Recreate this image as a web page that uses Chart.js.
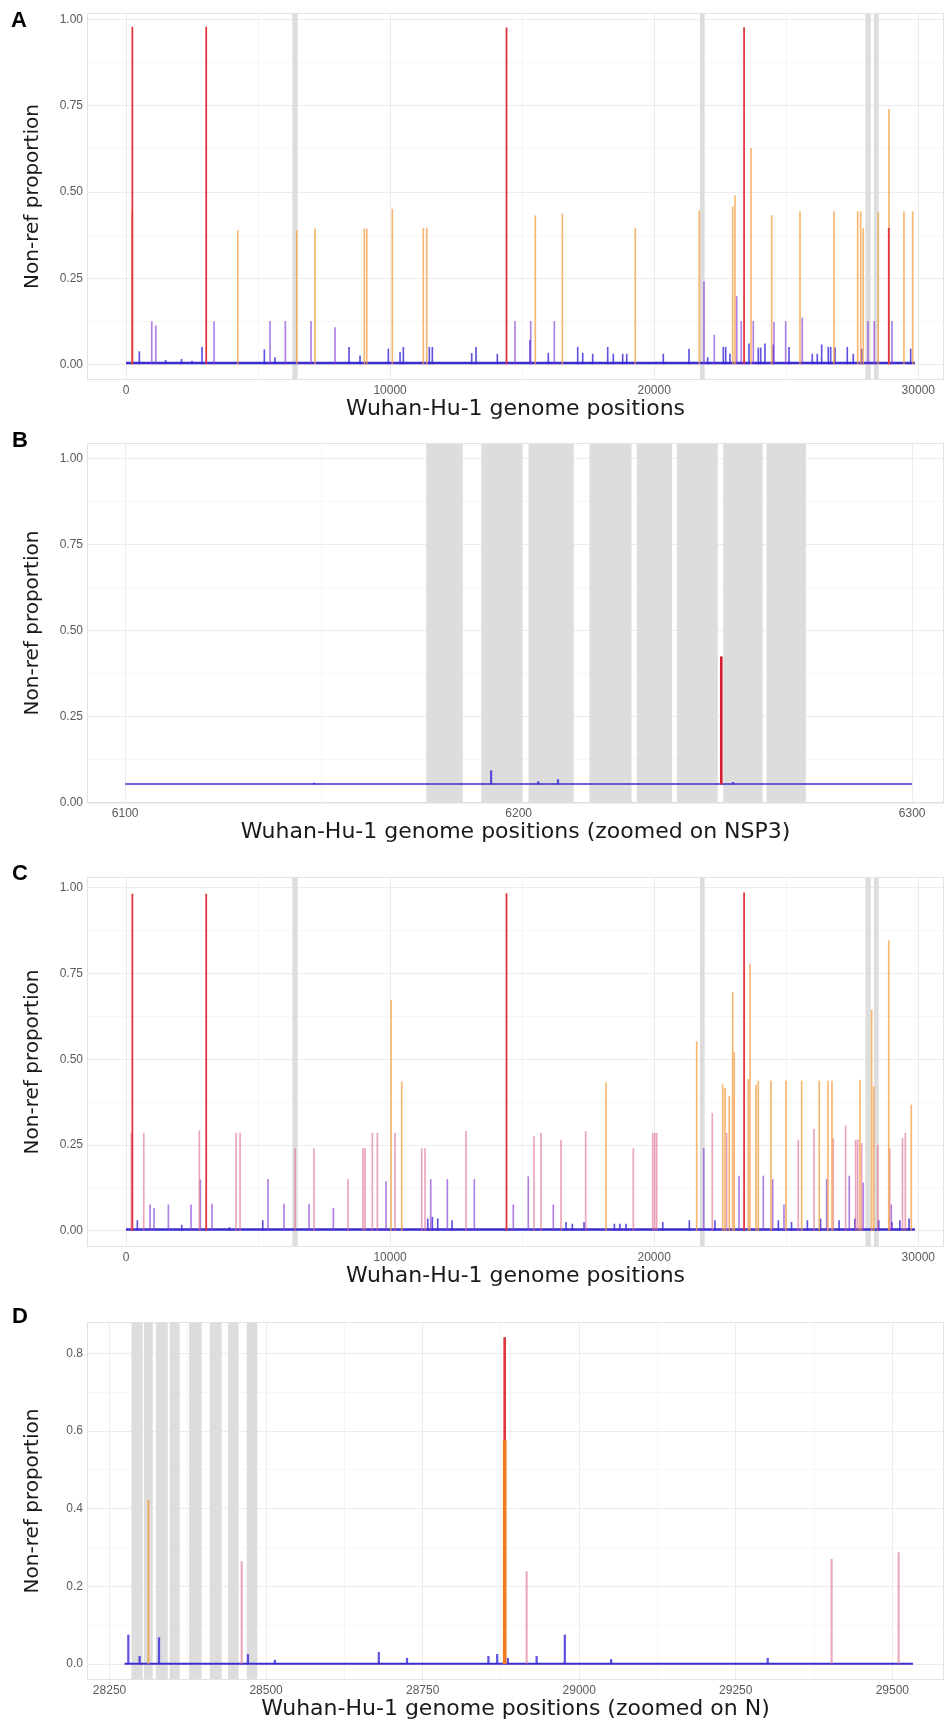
<!DOCTYPE html>
<html>
<head>
<meta charset="utf-8">
<title>Non-ref proportion along the Wuhan-Hu-1 genome</title>
<script src="https://cdn.jsdelivr.net/npm/chart.js@4.4.1/dist/chart.umd.min.js"></script>
<style>
  html, body { margin: 0; padding: 0; background: #fff; }
  #fig { position: relative; width: 944px; height: 1725px; overflow: hidden; background: #fff; }
  #fig canvas { position: absolute; left: 0; }
  .tag { position: absolute; z-index: 2; font: bold 22px "Liberation Sans", Arial, sans-serif; line-height: 1; color: #000; }
</style>
</head>
<body>
<div id="fig">
  <canvas id="panelA" width="944" height="430" style="top:0px"></canvas>
  <canvas id="panelB" width="944" height="423" style="top:430px"></canvas>
  <canvas id="panelC" width="944" height="433" style="top:864px"></canvas>
  <canvas id="panelD" width="944" height="421" style="top:1309px"></canvas>
  <div class="tag" style="left:11px;top:9px">A</div>
  <div class="tag" style="left:12px;top:429px">B</div>
  <div class="tag" style="left:12px;top:862px">C</div>
  <div class="tag" style="left:12px;top:1305px">D</div>
</div>
<script>
// ---- axis ticks ----
const xMajorsFull = [0, 10000, 20000, 30000];
const xMinorsFull = [5000, 15000, 25000];
const xMajorsB = [6100, 6200, 6300];
const xMinorsB = [6150, 6250];
const xMajorsD = [28250, 28500, 28750, 29000, 29250, 29500];
const xMinorsD = [28375, 28625, 28875, 29125, 29375];
const yMajorsFull = [0, 0.25, 0.5, 0.75, 1];
const yMinorsFull = [0.125, 0.375, 0.625, 0.875];
const yLabelsFull = ['0.00', '0.25', '0.50', '0.75', '1.00'];
const yMajorsD = [0, 0.2, 0.4, 0.6, 0.8];
const yMinorsD = [0.1, 0.3, 0.5, 0.7];
const yLabelsD = ['0.0', '0.2', '0.4', '0.6', '0.8'];

// ---- masked regions (grey bands) ----
const bandStartsFull = [6300, 21730, 28000, 28320];
const bandEndsFull = [6500, 21910, 28200, 28500];
const bandStartsB = [6176.5, 6190.5, 6202.5, 6218, 6230, 6240.2, 6252, 6263];
const bandEndsB = [6185.8, 6201, 6214, 6228.7, 6239, 6250.6, 6262, 6273];
const bandStartsD = [28285, 28305, 28324, 28346, 28377, 28410, 28439, 28469];
const bandEndsD = [28303, 28319, 28343, 28362, 28397, 28429, 28456, 28486];

// ---- panel A ----
const redPosA = [241, 3037, 14408, 23403, 28881];
const redValA = [0.978, 0.978, 0.976, 0.977, 0.395];
const orangePosA = [225, 4231, 6465, 7158, 9024, 9115, 10084, 11258, 11387, 15498, 16520, 19284, 21707, 22972, 23059, 23665, 24448, 25520, 26807, 27704, 27818, 27916, 28484, 28890, 29457, 29787];
const orangeValA = [0.443, 0.388, 0.388, 0.393, 0.393, 0.393, 0.45, 0.395, 0.395, 0.431, 0.436, 0.395, 0.445, 0.457, 0.49, 0.627, 0.432, 0.443, 0.443, 0.443, 0.443, 0.395, 0.44, 0.74, 0.443, 0.443];
const purplePosA = [975, 1127, 3334, 5454, 6033, 7006, 7915, 14730, 15324, 16218, 21885, 22275, 23123, 23297, 23752, 24535, 24978, 25606, 28094, 28332, 29002];
const purpleValA = [0.124, 0.112, 0.124, 0.125, 0.125, 0.125, 0.107, 0.125, 0.125, 0.125, 0.24, 0.085, 0.197, 0.125, 0.125, 0.122, 0.125, 0.135, 0.125, 0.125, 0.125];
const bluePosA = [506, 1500, 2100, 2500, 2880, 5238, 5643, 8445, 8861, 9933, 10376, 10501, 11485, 11599, 13090, 13253, 14060, 15297, 15990, 17103, 17293, 17671, 18239, 18451, 18807, 18959, 20344, 21317, 22025, 22616, 22707, 22870, 23589, 23941, 24032, 24194, 24509, 25103, 25985, 26174, 26341, 26591, 26682, 26845, 27311, 27538, 27856, 29711];
const blueValA = [0.037, 0.012, 0.015, 0.01, 0.05, 0.043, 0.02, 0.05, 0.025, 0.045, 0.035, 0.05, 0.05, 0.05, 0.032, 0.05, 0.03, 0.07, 0.033, 0.05, 0.033, 0.03, 0.05, 0.03, 0.03, 0.03, 0.03, 0.045, 0.02, 0.05, 0.05, 0.03, 0.06, 0.048, 0.048, 0.06, 0.057, 0.05, 0.03, 0.03, 0.057, 0.05, 0.05, 0.048, 0.05, 0.03, 0.045, 0.045];

// ---- panel B (NSP3) ----
const redPosB = [6251.5];
const redValB = [0.425];
const bluePosB = [6148, 6193, 6205, 6210, 6254.5];
const blueValB = [0.058, 0.094, 0.062, 0.068, 0.06];

// ---- panel C ----
const redPosC = [241, 3037, 14408, 23403];
const redValC = [0.982, 0.982, 0.984, 0.986];
const orangePosC = [10035, 10440, 18175, 21609, 22593, 22680, 22843, 22972, 23032, 23562, 23627, 23854, 23941, 24422, 24990, 25584, 26250, 26580, 26731, 27791, 28234, 28312, 28881, 29733];
const orangeValC = [0.673, 0.435, 0.432, 0.552, 0.426, 0.416, 0.392, 0.695, 0.52, 0.442, 0.778, 0.425, 0.437, 0.437, 0.437, 0.437, 0.437, 0.437, 0.437, 0.44, 0.644, 0.42, 0.846, 0.367];
const pinkPosC = [200, 672, 2777, 4167, 4318, 6400, 7120, 8407, 8975, 9051, 9327, 9516, 10186, 11197, 11322, 12875, 15449, 15714, 16471, 17406, 19208, 19943, 20019, 20094, 22199, 22744, 25455, 26050, 26780, 27250, 27629, 27705, 27856, 28461, 28916, 29401, 29509];
const pinkValC = [0.285, 0.285, 0.292, 0.285, 0.285, 0.24, 0.24, 0.15, 0.24, 0.24, 0.285, 0.285, 0.285, 0.24, 0.24, 0.29, 0.275, 0.285, 0.265, 0.29, 0.24, 0.285, 0.285, 0.285, 0.343, 0.285, 0.265, 0.296, 0.269, 0.306, 0.265, 0.265, 0.255, 0.25, 0.24, 0.27, 0.285];
const purplePosC = [911, 1062, 1604, 2463, 2815, 3258, 5378, 5984, 6931, 7851, 9846, 11538, 12167, 13189, 14665, 15233, 16180, 21876, 23210, 24130, 24485, 24914, 26530, 27386, 27916, 28977];
const purpleValC = [0.076, 0.066, 0.076, 0.076, 0.149, 0.078, 0.15, 0.078, 0.078, 0.066, 0.144, 0.15, 0.15, 0.15, 0.076, 0.158, 0.076, 0.24, 0.16, 0.16, 0.15, 0.076, 0.15, 0.16, 0.14, 0.076];
const bluePosC = [430, 2111, 3915, 5178, 11426, 11600, 11804, 12347, 16662, 16900, 17344, 18491, 18700, 18934, 20324, 21330, 22300, 24700, 25200, 25800, 26300, 27000, 27600, 28500, 29000, 29300, 29650];
const blueValC = [0.03, 0.017, 0.01, 0.03, 0.035, 0.04, 0.035, 0.03, 0.025, 0.02, 0.025, 0.02, 0.02, 0.02, 0.025, 0.03, 0.03, 0.03, 0.025, 0.03, 0.035, 0.03, 0.035, 0.03, 0.025, 0.03, 0.035];

// ---- panel D (N gene) ----
const orangePosD = [28881];
const orangeValD = [0.577];
const redPosD = [28881];
const redValD = [0.841];
const yellowPosD = [28312];
const yellowValD = [0.422];
const pinkPosD = [28461, 28916, 29403, 29510];
const pinkValD = [0.264, 0.238, 0.27, 0.287];
const bluePosD = [28280, 28298, 28329, 28471, 28514, 28680, 28725, 28855, 28869, 28886, 28932, 28977, 29051, 29301];
const blueValD = [0.075, 0.02, 0.068, 0.025, 0.01, 0.03, 0.015, 0.02, 0.025, 0.015, 0.02, 0.075, 0.012, 0.015];

const RED = '#e2323c';
const ORANGE = 'rgba(244,158,66,0.75)';
const PINK = 'rgba(222,105,140,0.6)';
const PURPLE = 'rgba(130,60,215,0.65)';
const BLUE = 'rgba(55,40,215,0.8)';
const BASE = '#3a2ecf';

Chart.defaults.font.family = '"Liberation Sans", Arial, sans-serif';
Chart.defaults.animation = false;

function bar(label, xs, ys, color, width, base) {
  const ds = {
    type: 'bar', label,
    data: xs.map((x, i) => ({ x: x, y: ys[i] })),
    backgroundColor: color, borderWidth: 0,
    barThickness: width, grouped: false
  };
  if (base !== undefined) ds.base = base;
  return ds;
}

function baseline(x0, x1, y, width) {
  return {
    type: 'line', label: 'depth noise',
    data: [{ x: x0, y: y }, { x: x1, y: y }],
    borderColor: BASE, borderWidth: width, pointRadius: 0
  };
}

const sorted = (a, b) => a.concat(b).sort((p, q) => p - q);

// grey masked regions + panel border, under the spikes
const panelDeco = {
  id: 'panelDeco',
  beforeDatasetsDraw(chart, args, opts) {
    const { ctx, chartArea: a, scales: { x } } = chart;
    ctx.save();
    ctx.fillStyle = '#dddddd';
    opts.starts.forEach((s, i) => {
      const x0 = x.getPixelForValue(s);
      const x1 = x.getPixelForValue(opts.ends[i]);
      ctx.fillRect(x0, a.top, x1 - x0, a.bottom - a.top);
    });
    ctx.strokeStyle = '#e2e2e2';
    ctx.lineWidth = 1;
    ctx.strokeRect(a.left + 0.5, a.top + 0.5, a.right - a.left - 1, a.bottom - a.top - 1);
    ctx.restore();
  }
};

function gridColor(majors) {
  return c => (c.tick && !majors.includes(c.tick.value)) ? '#f6f6f6' : '#ececec';
}

function makePanel(id, p) {
  const xTicks = sorted(p.xMajors, p.xMinors);
  const yTicks = sorted(p.yMajors, p.yMinors);
  return new Chart(document.getElementById(id), {
    type: 'bar',
    data: { datasets: p.datasets },
    plugins: [panelDeco],
    options: {
      responsive: false,
      devicePixelRatio: 1,
      layout: { padding: { top: 13, left: 0, right: 0, bottom: 0 } },
      plugins: {
        legend: { display: false },
        tooltip: { enabled: false },
        panelDeco: { starts: p.bandStarts, ends: p.bandEnds }
      },
      scales: {
        x: {
          type: 'linear', min: p.xMin, max: p.xMax, offset: false,
          afterFit: s => { s.height = 50; },
          afterBuildTicks: s => { s.ticks = xTicks.map(v => ({ value: v })); },
          grid: { drawTicks: false, offset: false, color: gridColor(p.xMajors) },
          border: { display: false },
          ticks: {
            autoSkip: false, maxRotation: 0, padding: 3, color: '#5a5a5a',
            font: { size: 12 },
            callback: v => p.xMajors.includes(v) ? String(v) : ''
          },
          title: {
            display: true, text: p.xTitle, color: '#1a1a1a',
            font: { family: '"DejaVu Sans", sans-serif', size: 22 },
            padding: { top: 0, bottom: 8 }
          }
        },
        y: {
          min: p.yMin, max: p.yMax,
          afterFit: s => { s.width = 87; },
          afterBuildTicks: s => { s.ticks = yTicks.map(v => ({ value: v })); },
          grid: { drawTicks: false, color: gridColor(p.yMajors) },
          border: { display: false },
          ticks: {
            autoSkip: false, padding: 4, color: '#5a5a5a',
            font: { size: 12 },
            callback: v => {
              const k = p.yMajors.indexOf(v);
              return k >= 0 ? p.yLabels[k] : '';
            }
          },
          title: {
            display: true, text: 'Non-ref proportion', color: '#1a1a1a',
            font: { family: '"DejaVu Sans", sans-serif', size: 20 },
            padding: { top: 21, bottom: 0 }
          }
        }
      }
    }
  });
}

makePanel('panelA', {
  xMin: -1477, xMax: 30973, yMin: -0.045, yMax: 1.019,
  xMajors: xMajorsFull, xMinors: xMinorsFull,
  yMajors: yMajorsFull, yMinors: yMinorsFull, yLabels: yLabelsFull,
  bandStarts: bandStartsFull, bandEnds: bandEndsFull,
  xTitle: 'Wuhan-Hu-1 genome positions',
  datasets: [
    bar('red', redPosA, redValA, RED, 1.1),
    bar('orange', orangePosA, orangeValA, ORANGE, 1),
    bar('purple', purplePosA, purpleValA, PURPLE, 1),
    bar('blue', bluePosA, blueValA, BLUE, 1),
    baseline(0, 29870, 0.004, 2.5)
  ]
});

makePanel('panelB', {
  xMin: 6090.3, xMax: 6308.1, yMin: 0, yMax: 1.046,
  xMajors: xMajorsB, xMinors: xMinorsB,
  yMajors: yMajorsFull, yMinors: yMinorsFull, yLabels: yLabelsFull,
  bandStarts: bandStartsB, bandEnds: bandEndsB,
  xTitle: 'Wuhan-Hu-1 genome positions (zoomed on NSP3)',
  datasets: [
    bar('red', redPosB, redValB, '#d42030', 2, 0.055),
    bar('blue', bluePosB, blueValB, BLUE, 1.6, 0.055),
    baseline(6100, 6300, 0.055, 1.6)
  ]
});

makePanel('panelC', {
  xMin: -1477, xMax: 30973, yMin: -0.047, yMax: 1.032,
  xMajors: xMajorsFull, xMinors: xMinorsFull,
  yMajors: yMajorsFull, yMinors: yMinorsFull, yLabels: yLabelsFull,
  bandStarts: bandStartsFull, bandEnds: bandEndsFull,
  xTitle: 'Wuhan-Hu-1 genome positions',
  datasets: [
    bar('red', redPosC, redValC, RED, 1.1),
    bar('orange', orangePosC, orangeValC, ORANGE, 1),
    bar('pink', pinkPosC, pinkValC, PINK, 1),
    bar('purple', purplePosC, purpleValC, PURPLE, 1),
    bar('blue', bluePosC, blueValC, BLUE, 1),
    baseline(0, 29870, 0.004, 2.5)
  ]
});

makePanel('panelD', {
  xMin: 28214, xMax: 29582.5, yMin: -0.041, yMax: 0.881,
  xMajors: xMajorsD, xMinors: xMinorsD,
  yMajors: yMajorsD, yMinors: yMinorsD, yLabels: yLabelsD,
  bandStarts: bandStartsD, bandEnds: bandEndsD,
  xTitle: 'Wuhan-Hu-1 genome positions (zoomed on N)',
  datasets: [
    bar('orange', orangePosD, orangeValD, '#f07a22', 3),
    bar('red', redPosD, redValD, RED, 2),
    bar('yellow', yellowPosD, yellowValD, 'rgba(235,160,60,0.8)', 1.2),
    bar('pink', pinkPosD, pinkValD, PINK, 1.4),
    bar('blue', bluePosD, blueValD, BLUE, 1.6),
    baseline(28274, 29533, 0.001, 2)
  ]
});
</script>
</body>
</html>
